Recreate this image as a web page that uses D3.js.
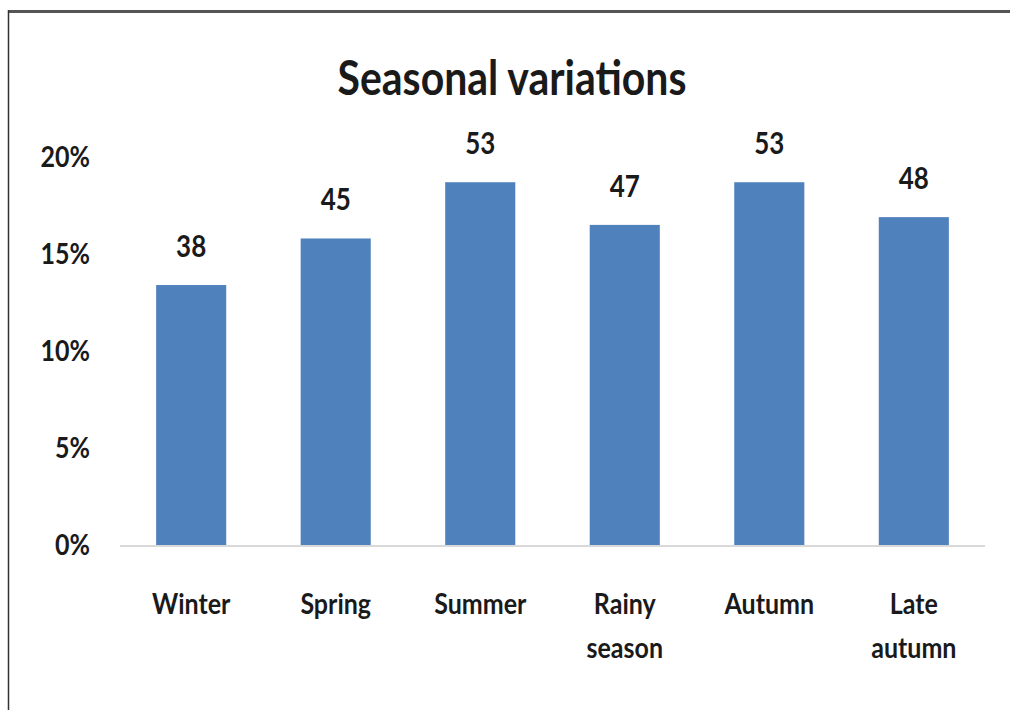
<!DOCTYPE html>
<html>
<head>
<meta charset="utf-8">
<script src="https://cdn.jsdelivr.net/npm/d3@7"></script>
<style>
  body { margin: 0; background: #fff; }
  text { font-family: Lato, "Open Sans", sans-serif; font-weight: bold; fill: #1a1a1a; }
</style>
</head>
<body>
<svg id="chart" width="1010" height="710"></svg>
<script>
// values
var seasons = ["Winter", "Spring", "Summer", "Rainy season", "Autumn", "Late autumn"];
var counts = [38, 45, 53, 47, 53, 48];
var shares = [0.134, 0.158, 0.187, 0.165, 0.187, 0.169];
var yTicks = [0, 0.05, 0.10, 0.15, 0.20];

// the source text looks stretched up a bit
var stretch = 1.15;

var svg = d3.select("#chart");

// frame
svg.append("line")
  .attr("x1", 8).attr("x2", 1010)
  .attr("y1", 11.5).attr("y2", 11.5)
  .style("stroke", "#555").style("stroke-width", 3);
svg.append("line")
  .attr("x1", 8.5).attr("x2", 8.5)
  .attr("y1", 10).attr("y2", 710)
  .style("stroke", "#333").style("stroke-width", 1.5);

// places a text at (px, py) with a vertical stretch
function label(px, py, size, anchor) {
  return svg.append("g")
    .attr("transform", "translate(" + px + "," + py + ") scale(1," + stretch + ")")
    .append("text")
    .attr("text-anchor", anchor)
    .style("font-size", size + "px");
}

label(512, 95, 41, "middle").text("Seasonal variations");

var x = d3.scaleBand()
  .domain(seasons)
  .range([120, 985])
  .paddingInner(0.515)
  .paddingOuter(0.25);

var y = d3.scaleLinear()
  .domain([0, 0.20])
  .range([545, 157]);

// y tick labels, no axis line
yTicks.forEach(function(d) {
  label(90, y(d), 25, "end")
    .attr("dy", "0.36em")
    .text(d3.format(".0%")(d));
});

var bars = seasons.map(function(s, i) {
  return { season: s, count: counts[i], share: shares[i] };
});

svg.selectAll(".bar")
  .data(bars)
  .enter()
  .append("rect")
  .attr("class", "bar")
  .attr("x", function(d) { return x(d.season); })
  .attr("width", x.bandwidth())
  .attr("y", function(d) { return y(d.share); })
  .attr("height", function(d) { return y(0) - y(d.share); })
  .style("fill", "#4f81bd");

// baseline
svg.append("line")
  .attr("x1", 120).attr("x2", 985)
  .attr("y1", y(0) + 1).attr("y2", y(0) + 1)
  .style("stroke", "#d9d9d9").style("stroke-width", 2);

bars.forEach(function(d) {
  label(x(d.season) + x.bandwidth() / 2, y(d.share) - 28, 26, "middle")
    .text(d.count);
});

// category labels, split over two lines
seasons.forEach(function(s) {
  var t = label(x(s) + x.bandwidth() / 2, 614, 25, "middle");
  s.split(" ").forEach(function(w, i) {
    t.append("tspan")
      .attr("x", 0)
      .attr("y", i * 44 / stretch)
      .text(w);
  });
});
</script>
</body>
</html>
